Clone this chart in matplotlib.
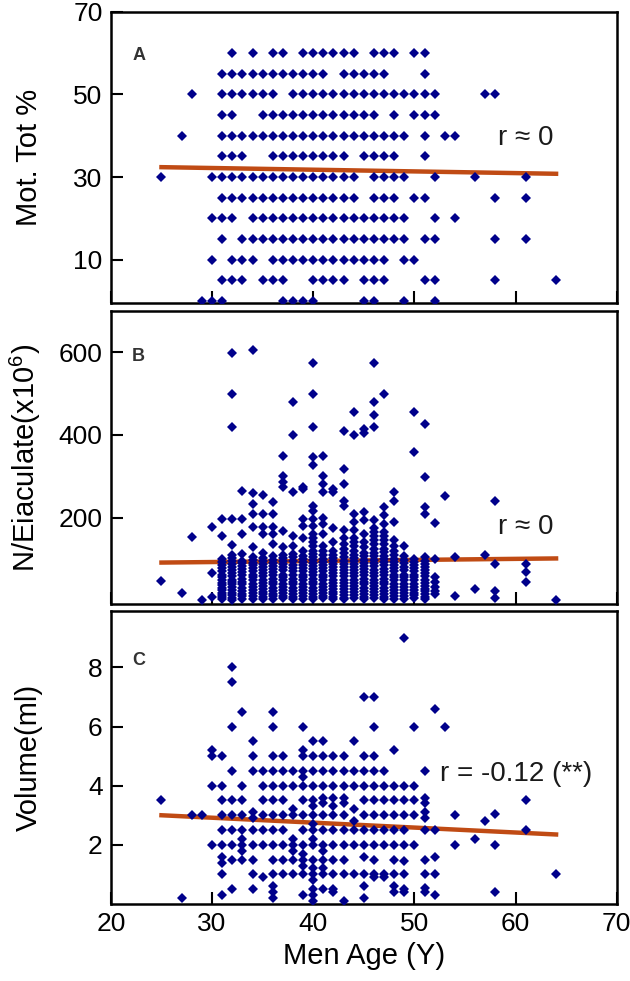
import numpy as np
import matplotlib
matplotlib.use("Agg")
import matplotlib.pyplot as plt

"""
data read off the figure
"""
# panel A: motility level -> ages having that value
mot_rows = {
    60: [32, 34, 36, 37, 39, 40, 41, 42, 43, 44, 46, 47, 48, 50, 51],
    55: [31, 32, 33, 34, 35, 36, 37, 38, 39, 40, 41, 43, 44, 45, 46, 47, 51],
    50: [28, 31, 32, 33, 34, 35, 36, 38, 39, 40, 41, 42, 43, 44, 45, 46, 47, 48, 49, 50, 51, 52, 57, 58],
    45: [31, 32, 35, 36, 37, 38, 39, 40, 41, 42, 43, 44, 45, 46, 48, 50, 51, 52],
    40: [27, 31, 32, 33, 34, 35, 36, 37, 38, 39, 40, 41, 42, 43, 44, 45, 46, 47, 48, 49, 51, 53, 54],
    35: [31, 32, 33, 36, 37, 38, 39, 40, 41, 42, 43, 45, 46, 47, 48, 51],
    30: [25, 30, 31, 32, 33, 34, 35, 36, 37, 38, 39, 40, 41, 42, 43, 44, 46, 47, 48, 49, 52, 56, 61],
    25: [31, 32, 33, 34, 35, 36, 37, 38, 39, 40, 41, 42, 43, 44, 46, 47, 48, 50, 51, 58, 61],
    20: [30, 31, 32, 34, 35, 36, 37, 38, 39, 40, 41, 42, 43, 44, 45, 46, 47, 48, 49, 52, 54],
    15: [31, 33, 34, 35, 36, 37, 38, 39, 40, 41, 42, 43, 44, 45, 46, 47, 48, 49, 51, 52, 58, 61],
    10: [30, 32, 33, 34, 36, 37, 38, 39, 40, 41, 42, 43, 44, 45, 46, 47, 49, 50],
    5: [31, 32, 33, 35, 36, 37, 40, 41, 42, 43, 45, 46, 47, 51, 52, 58, 64],
    0: [29, 30, 31, 37, 38, 39, 40, 45, 46, 49, 52],
}

# panel B: age -> N/Eiaculate values (x10^6)
count_cols = {
    25: [47],
    27: [17],
    28: [154],
    29: [0],
    30: [178, 66, 8],
    31: [197, 156, 100, 92, 85, 77, 70, 62, 55, 48, 42, 36, 30, 24, 18, 12, 8, 2],
    32: [599, 498, 418, 197, 134, 110, 102, 95, 88, 80, 72, 65, 58, 50, 44, 38, 31, 25, 18, 12, 6, 1],
    33: [264, 197, 160, 112, 96, 90, 82, 75, 68, 60, 52, 45, 38, 30, 22, 15, 9, 3],
    34: [606, 259, 233, 208, 178, 128, 105, 98, 90, 85, 78, 70, 62, 55, 48, 40, 33, 25, 18, 10, 4],
    35: [254, 208, 176, 160, 115, 102, 95, 88, 80, 72, 65, 58, 50, 42, 35, 28, 20, 14, 8, 2],
    36: [237, 208, 176, 160, 136, 108, 98, 90, 82, 75, 68, 60, 52, 45, 38, 30, 22, 15, 9, 3],
    37: [350, 301, 285, 273, 168, 128, 110, 102, 95, 88, 80, 72, 62, 55, 48, 40, 32, 25, 18, 11, 5],
    38: [479, 399, 261, 156, 130, 112, 104, 95, 86, 78, 70, 60, 52, 45, 38, 30, 22, 15, 8, 2],
    39: [273, 269, 197, 180, 150, 120, 108, 100, 92, 85, 78, 70, 62, 55, 48, 40, 32, 25, 18, 10, 4],
    40: [574, 498, 419, 347, 326, 229, 217, 197, 180, 160, 150, 140, 130, 120, 112, 105, 98, 90, 82,
         75, 68, 60, 52, 45, 38, 30, 22, 15, 8, 3],
    41: [349, 301, 281, 261, 200, 185, 160, 130, 118, 110, 100, 92, 85, 78, 70, 62, 55, 48, 40, 32,
         25, 18, 11, 5],
    42: [269, 261, 175, 140, 118, 110, 102, 95, 88, 80, 72, 65, 58, 50, 42, 35, 28, 20, 14, 8, 2],
    43: [409, 318, 281, 241, 229, 170, 150, 135, 125, 115, 105, 96, 88, 80, 72, 65, 58, 50, 42, 35,
         28, 20, 12, 6, 2],
    44: [455, 401, 209, 190, 170, 150, 140, 130, 120, 110, 102, 95, 88, 80, 72, 65, 58, 50, 42, 35,
         28, 20, 12, 5],
    45: [415, 404, 213, 193, 160, 140, 128, 115, 106, 98, 90, 82, 75, 68, 60, 52, 45, 38, 30, 22,
         15, 8, 2],
    46: [574, 480, 449, 419, 193, 175, 165, 155, 145, 135, 125, 115, 106, 98, 90, 82, 74, 66, 58,
         50, 42, 35, 28, 20, 12, 5],
    47: [500, 225, 205, 185, 165, 155, 145, 135, 125, 116, 108, 100, 92, 84, 76, 68, 60, 52, 45, 38,
         30, 22, 15, 8, 3],
    48: [261, 241, 189, 145, 130, 120, 110, 100, 92, 85, 78, 70, 62, 55, 48, 40, 32, 25, 18, 10, 4],
    49: [131, 108, 98, 90, 80, 72, 62, 55, 48, 40, 32, 25, 18, 10, 3],
    50: [455, 358, 100, 92, 85, 78, 70, 62, 55, 48, 40, 32, 25, 18, 12, 5],
    51: [427, 299, 225, 209, 105, 96, 88, 80, 72, 65, 58, 50, 42, 35, 28, 22, 15, 8, 3],
    52: [187, 100, 56, 45, 32, 22, 15],
    53: [251],
    54: [105, 11],
    56: [27],
    57: [110],
    58: [239, 88, 23, 5],
    61: [88, 68, 44],
    64: [1],
}

# panel C: age -> volume (ml)
volume_cols = {
    25: [3.5],
    27: [0.2],
    28: [3.0],
    29: [3.0],
    30: [5.2, 5.0, 4.0, 2.0],
    31: [5.0, 4.0, 3.5, 3.0, 2.5, 2.0, 1.6, 1.4, 1.0, 0.3],
    32: [8.0, 7.5, 6.0, 4.5, 3.5, 3.0, 2.5, 2.0, 1.5, 0.5],
    33: [6.5, 4.0, 3.5, 3.0, 2.5, 2.2, 2.0, 1.8, 1.5],
    34: [5.5, 5.0, 4.5, 3.1, 2.9, 2.5, 2.0, 1.5, 1.0, 0.5],
    35: [4.5, 4.0, 3.5, 3.0, 2.5, 2.0, 0.9],
    36: [6.5, 6.0, 5.0, 4.5, 4.0, 3.5, 3.0, 2.5, 2.0, 1.5, 1.0, 0.6, 0.4, 0.2],
    37: [5.0, 4.5, 4.0, 3.5, 3.0, 2.5, 2.0, 1.5, 1.0],
    38: [4.5, 4.0, 3.2, 3.0, 2.2, 2.0, 1.8, 1.5, 1.0],
    39: [6.0, 5.2, 5.0, 4.5, 4.3, 4.0, 3.5, 3.0, 2.5, 2.0, 1.7, 1.5, 1.3, 1.0, 0.3],
    40: [5.5, 5.0, 4.5, 4.0, 3.5, 3.3, 3.0, 2.7, 2.5, 2.2, 2.0, 1.5, 1.2, 1.0, 0.8, 0.5, 0.3, 0.1],
    41: [5.5, 5.0, 4.5, 4.0, 3.6, 3.4, 3.0, 2.5, 2.0, 1.8, 1.5, 1.2, 1.0, 0.5],
    42: [5.0, 4.5, 4.0, 3.6, 3.3, 3.0, 2.5, 2.0, 1.5, 1.0, 0.5, 0.4],
    43: [5.0, 4.5, 4.0, 3.6, 3.4, 3.0, 2.5, 2.0, 1.5, 1.0, 0.1],
    44: [5.5, 4.5, 4.0, 3.2, 2.8, 2.5, 2.0, 1.0],
    45: [7.0, 5.0, 4.5, 4.0, 3.5, 3.0, 2.5, 2.0, 1.6, 1.0, 0.6, 0.2],
    46: [7.0, 6.0, 5.0, 4.5, 4.0, 3.5, 3.0, 2.5, 2.0, 1.5, 1.0, 0.9],
    47: [4.5, 4.0, 3.5, 3.0, 2.5, 2.0, 1.0, 0.9],
    48: [5.2, 4.0, 3.5, 3.0, 2.5, 2.0, 1.5, 1.0, 0.6, 0.4],
    49: [9.0, 4.0, 3.5, 3.0, 2.5, 2.0, 1.45, 1.0, 0.5, 0.4],
    50: [6.0, 4.0, 3.5, 3.0, 2.0],
    51: [4.5, 3.6, 3.4, 3.1, 2.9, 2.5, 1.5, 1.0, 0.55, 0.4],
    52: [6.6, 2.5, 1.6, 1.0, 0.3],
    53: [6.0],
    54: [3.0, 2.0],
    56: [2.2],
    57: [2.8],
    58: [3.05, 2.0, 0.4],
    61: [3.5, 2.5],
    64: [1.0],
}

# regression lines (end points)
fit_x = [25, 64]
fit_mot = [32.4, 30.8]
fit_count = [91, 101]
fit_vol = [3.0, 2.35]

r_labels = ["r \u2248 0", "r \u2248 0", "r = -0.12 (**)"]
panel_letters = ["A", "B", "C"]
ylabels = ["Mot. Tot %", "N/Eiaculate(x10$^{6}$)", "Volume(ml)"]
yticks = [[10, 30, 50, 70], [200, 400, 600], [2, 4, 6, 8]]
xticks = [20, 30, 40, 50, 60, 70]

"""
flatten
"""
def from_rows(rows):
    xs, ys = [], []
    for val, ages in rows.items():
        xs += ages
        ys += [val] * len(ages)
    return np.array(xs), np.array(ys)

def from_cols(cols):
    xs, ys = [], []
    for age, vals in cols.items():
        xs += [age] * len(vals)
        ys += vals
    return np.array(xs), np.array(ys)

panels = [from_rows(mot_rows), from_cols(count_cols), from_cols(volume_cols)]
fits = [fit_mot, fit_count, fit_vol]

"""
plotting
"""
plt.rcParams['font.family'] = ['Liberation Sans', 'DejaVu Sans']
plt.rcParams['mathtext.fontset'] = 'custom'
plt.rcParams['mathtext.rm'] = 'Liberation Sans'
plt.rcParams['mathtext.it'] = 'Liberation Sans:italic'

dot_color = '#00008B'
line_color = '#C04B14'

fig = plt.figure(figsize=(6.3, 9.81), dpi=100)

boxes = [[0.176, 0.691, 0.803, 0.297],
         [0.176, 0.384, 0.803, 0.299],
         [0.176, 0.0785, 0.803, 0.2985]]
ylims = [(-0.5, 70), (-10, 700), (0, 9.9)]
text_pos = [(61, 39.5), (61, 176), (60.1, 4.4)]
letter_y = [0.88, 0.875, 0.86]

for i in range(3):
    ax = fig.add_axes(boxes[i])
    x, y = panels[i]
    ax.plot(x, y, linestyle='none', marker='D', ms=5.4, color=dot_color,
            markeredgewidth=0, zorder=3)
    ax.plot(fit_x, fits[i], color=line_color, lw=3.2, zorder=2)

    ax.set_xlim(20, 70)
    ax.set_ylim(*ylims[i])
    ax.set_xticks(xticks)
    ax.set_yticks(yticks[i])
    ax.tick_params(direction='in', length=8.5, width=1.5, labelsize=19, pad=6)
    if i < 2:
        ax.tick_params(axis='x', labelbottom=False)
    for sp in ax.spines.values():
        sp.set_linewidth(1.8)

    ax.set_ylabel(ylabels[i], fontsize=21)
    ax.yaxis.set_label_coords(-0.135, 0.5)

    ax.text(0.042, letter_y[i], panel_letters[i], transform=ax.transAxes,
            fontsize=13, fontweight='bold', color='#333333', va='top')
    ax.text(text_pos[i][0], text_pos[i][1], r_labels[i], fontsize=20,
            ha='center', va='center', color='#1a1a1a')

    if i == 2:
        ax.set_xlabel("Men Age (Y)", fontsize=21, labelpad=4)

fig.savefig("out.png", dpi=100)
